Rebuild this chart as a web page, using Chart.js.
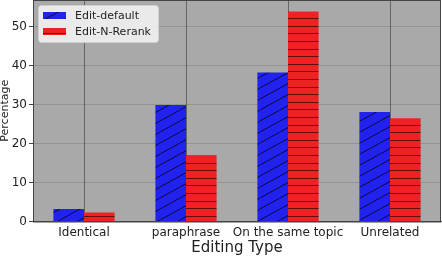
<!DOCTYPE html>
<html>
<head>
<meta charset="utf-8">
<script src="https://cdn.jsdelivr.net/npm/chart.js@4"></script>
<style>
  html, body { margin: 0; padding: 0; background: #fff; }
  canvas { display: block; }
</style>
</head>
<body>
<canvas id="chart" width="442" height="262"></canvas>
<script>
const categories = ['Identical', 'paraphrase', 'On the same topic', 'Unrelated'];
const editDefault = [3.2, 29.9, 38.2, 28.1];
const editNRerank = [2.3, 16.9, 53.8, 26.5];
const seriesNames = ['Edit-default', 'Edit-N-Rerank'];
const yTicks = [0, 10, 20, 30, 40, 50];

const FONT = 'DejaVu Sans';

// hatch patterns like matplotlib's '/' and '-'
function diagPattern(color) {
  const c = document.createElement('canvas');
  c.width = 20; c.height = 11;
  const g = c.getContext('2d');
  g.fillStyle = color;
  g.fillRect(0, 0, c.width, c.height);
  g.strokeStyle = 'rgba(0,0,0,0.75)';
  g.lineWidth = 1;
  g.beginPath();
  for (let k = -1; k <= 1; k++) {
    g.moveTo(k * 20, 11);
    g.lineTo(k * 20 + 20, 0);
  }
  g.stroke();
  return g.createPattern(c, 'repeat');
}

function horizPattern(color) {
  const c = document.createElement('canvas');
  c.width = 8; c.height = 38;
  const g = c.getContext('2d');
  g.fillStyle = color;
  g.fillRect(0, 0, c.width, c.height);
  g.fillStyle = 'rgba(0,0,0,0.6)';
  for (let k = 0; k < 5; k++) {
    g.fillRect(0, Math.round(3 + k * 7.6), c.width, 1);
  }
  return g.createPattern(c, 'repeat');
}

const blueFill = diagPattern('#2222ee');
const redFill = horizPattern('#ee2222');

const plotBg = {
  id: 'plotBg',
  beforeDraw(chart) {
    const { ctx, chartArea: a } = chart;
    ctx.save();
    ctx.fillStyle = '#a9a9a9';
    ctx.fillRect(a.left, a.top, a.right - a.left, a.bottom - a.top);
    ctx.restore();
  },
  afterDraw(chart) {
    const { ctx, chartArea: a } = chart;
    ctx.save();
    ctx.strokeStyle = '#444';
    ctx.lineWidth = 1;
    ctx.strokeRect(a.left + 0.5, a.top + 0.5, a.right - a.left - 1, a.bottom - a.top);

    // legend box in upper left
    const x = a.left + 5, y = a.top + 5, w = 120, h = 37;
    ctx.fillStyle = 'rgba(240,240,240,0.92)';
    ctx.strokeStyle = '#cfcfcf';
    ctx.beginPath();
    ctx.roundRect(x + 0.5, y + 0.5, w, h, 3);
    ctx.fill();
    ctx.stroke();
    const fills = [blueFill, redFill];
    ctx.font = '11px "' + FONT + '"';
    ctx.textBaseline = 'middle';
    seriesNames.forEach((name, i) => {
      const ry = y + 7 + i * 16;
      ctx.fillStyle = fills[i];
      ctx.fillRect(x + 5, ry, 23, 7);
      ctx.fillStyle = '#222';
      ctx.fillText(name, x + 37, ry + 4);
    });
    ctx.restore();
  }
};

new Chart(document.getElementById('chart'), {
  type: 'bar',
  data: {
    labels: categories,
    datasets: [
      { label: seriesNames[0], data: editDefault, backgroundColor: blueFill, borderWidth: 0 },
      { label: seriesNames[1], data: editNRerank, backgroundColor: redFill, borderWidth: 0 }
    ]
  },
  options: {
    responsive: false,
    devicePixelRatio: 1,
    animation: false,
    layout: { padding: { top: 0, right: 1, left: 0, bottom: 0 } },
    datasets: { bar: { categoryPercentage: 0.6, barPercentage: 1.0 } },
    plugins: { legend: { display: false }, tooltip: { enabled: false } },
    scales: {
      x: {
        offset: true,
        grid: { offset: false, color: 'rgba(0,0,0,0.4)', drawTicks: false },
        border: { color: '#444' },
        ticks: {
          font: { family: FONT, size: 12 }, color: '#222', padding: 4.5,
          maxRotation: 0, minRotation: 0, autoSkip: false
        },
        title: {
          display: true, text: 'Editing Type', color: '#222',
          font: { family: FONT, size: 15 }, padding: { top: 0, bottom: 5 }
        },
        afterFit(s) { s.height = 40.5; s.paddingLeft = 0; s.paddingRight = 0; }
      },
      y: {
        min: 0,
        max: 56.8,
        afterBuildTicks(s) { s.ticks = yTicks.map(v => ({ value: v })); },
        grid: { color: 'rgba(0,0,0,0.13)', tickLength: 4, tickColor: '#444' },
        border: { color: '#444' },
        ticks: { font: { family: FONT, size: 12 }, color: '#222', padding: 2 },
        title: {
          display: true, text: 'Percentage', color: '#222',
          font: { family: FONT, size: 11, lineHeight: 1 }, padding: { top: 0, bottom: 0 }
        },
        afterFit(s) { s.width = 33; s.paddingTop = 0; s.paddingBottom = 0; }
      }
    }
  },
  plugins: [plotBg]
});
</script>
</body>
</html>
